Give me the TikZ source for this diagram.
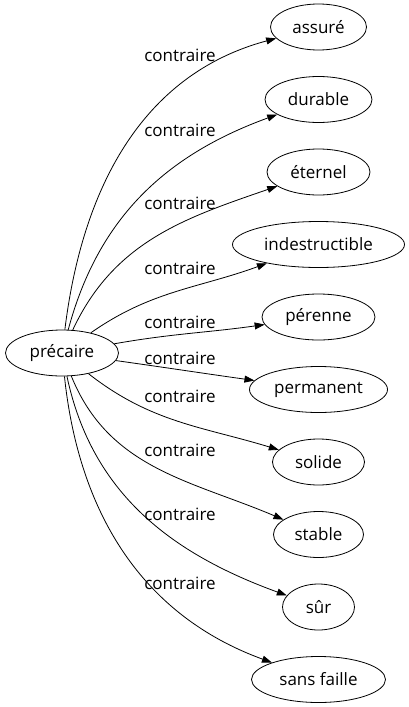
\documentclass[tikz,border=0pt]{standalone}
\usepackage{fontspec}
\setmainfont{Open Sans}
\usetikzlibrary{shapes.geometric,arrows.meta}
\begin{document}
\begin{tikzpicture}[x=1pt,y=1pt,>={Triangle[length=10pt,width=7pt]},font=\fontsize{17}{20}\selectfont,
	mot/.style={draw,ellipse,inner sep=0pt,minimum height=46pt,line width=0.8pt},
	lien/.style={->,line width=0.8pt}]
	\useasboundingbox (0,0) rectangle (409,-707);
	% mots
	\node[mot,minimum width=113pt] (precaire) at (62,-353) {précaire};
	\node[mot,minimum width=96pt] (assure) at (318.5,-27) {assuré};
	\node[mot,minimum width=107pt] (durable) at (318.5,-99.5) {durable};
	\node[mot,minimum width=103pt] (eternel) at (318.5,-172) {éternel};
	\node[mot,minimum width=172pt] (indestructible) at (318.5,-244.5) {indestructible};
	\node[mot,minimum width=113pt] (perenne) at (318.5,-317) {pérenne};
	\node[mot,minimum width=138pt] (permanent) at (318.5,-389.5) {permanent};
	\node[mot,minimum width=92pt] (solide) at (318.5,-462) {solide};
	\node[mot,minimum width=90pt] (stable) at (318.5,-534.5) {stable};
	\node[mot,minimum width=72pt] (sur) at (318.5,-607) {sûr};
	\node[mot,minimum width=134pt] (sansfaille) at (318.5,-679.5) {sans faille};
	% liens
	\draw[lien] (precaire) to[out=83,in=195] (assure);
	\draw[lien] (precaire) to[out=75,in=200] (durable);
	\draw[lien] (precaire) to[out=65,in=199] (eternel);
	\draw[lien] (precaire) to[out=35,in=200] (indestructible);
	\draw[lien] (precaire) to[out=10,in=188] (perenne);
	\draw[lien] (precaire) to[out=-8,in=172] (permanent);
	\draw[lien] (precaire) to[out=-38,in=163] (solide);
	\draw[lien] (precaire) to[out=-68,in=157] (stable);
	\draw[lien] (precaire) to[out=-78,in=160] (sur);
	\draw[lien] (precaire) to[out=-84,in=160] (sansfaille);
	% etiquettes
	\node (l0) at (180,-55) {contraire};
	\node (l1) at (180,-130) {contraire};
	\node (l2) at (180,-203) {contraire};
	\node (l3) at (180,-268) {contraire};
	\node (l4) at (180,-322) {contraire};
	\node (l5) at (180,-358) {contraire};
	\node (l6) at (180,-396) {contraire};
	\node (l7) at (180,-450) {contraire};
	\node (l8) at (180,-514) {contraire};
	\node (l9) at (180,-583) {contraire};
\end{tikzpicture}
\end{document}
